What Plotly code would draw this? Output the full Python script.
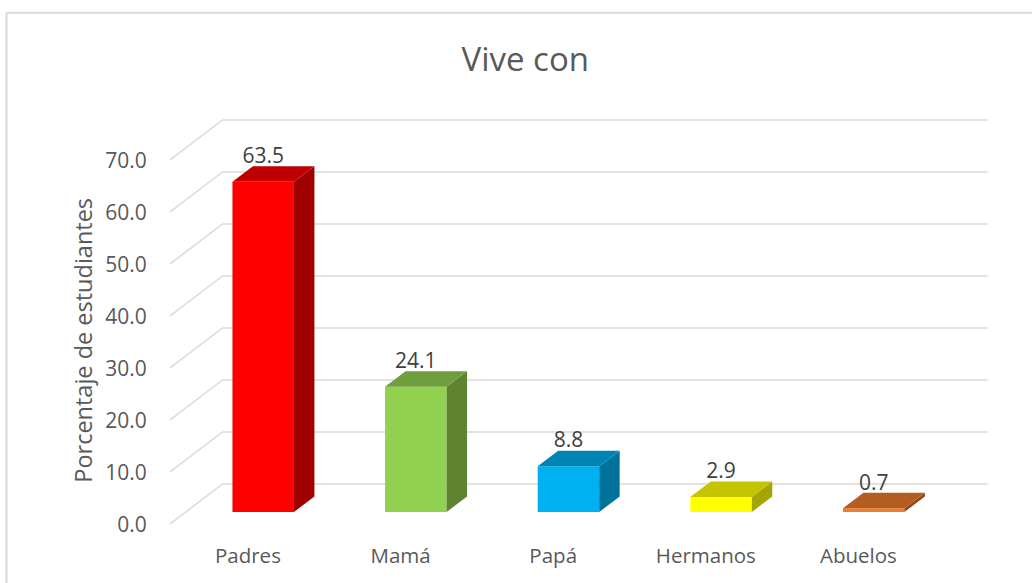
import plotly.graph_objects as go

categories = ['Padres', 'Mamá', 'Papá', 'Hermanos', 'Abuelos']
values = [63.5, 24.1, 8.8, 2.9, 0.7]
axis_ticks = [0, 10, 20, 30, 40, 50, 60, 70]

front_colors = ['#FF0000', '#92D050', '#00B0F0', '#FFFF00', '#ED7D31']
top_colors = ['#C00000', '#6F9F3D', '#0084B4', '#C4C400', '#B35D20']
side_colors = ['#A00000', '#5E8431', '#00739C', '#A5A500', '#8F4A1A']

GRID = '#D9D9D9'
FONT = 'Open Sans'

# fake 3D: offsets in axis units (x = category step, y = percent)
BAR_W = 0.403
DEPTH_X = 0.134
DEPTH_Y = 2.98
WALL_LEFT = -0.267
WALL_RIGHT = 4.746
WALL_Y = 5.385
FRONT_LEFT = -0.6107
FRONT_Y = -2.31
TICK_Y = -2.5
LABEL_SHIFT = 0.1
LABEL_Y = 2.6

xs = list(range(len(categories)))

fig = go.Figure()

fig.add_trace(go.Bar(
    x=xs,
    y=values,
    width=BAR_W,
    marker=dict(color=front_colors, line=dict(width=0)),
    hoverinfo='skip',
))

for x, v, top_c, side_c in zip(xs, values, top_colors, side_colors):
    left = x - BAR_W / 2
    right = x + BAR_W / 2
    fig.add_trace(go.Scatter(
        x=[right, right + DEPTH_X, right + DEPTH_X, right, right],
        y=[0, DEPTH_Y, v + DEPTH_Y, v, 0],
        mode='lines', fill='toself', fillcolor=side_c,
        line=dict(width=0), hoverinfo='skip',
    ))
    fig.add_trace(go.Scatter(
        x=[left, left + DEPTH_X, right + DEPTH_X, right, left],
        y=[v, v + DEPTH_Y, v + DEPTH_Y, v, v],
        mode='lines', fill='toself', fillcolor=top_c,
        line=dict(width=0), hoverinfo='skip',
    ))

fig.add_trace(go.Scatter(
    x=xs,
    y=[v + LABEL_Y for v in values],
    mode='text',
    text=[f'{v:.1f}' for v in values],
    textposition='top center',
    textfont=dict(family=FONT, size=21, color='#404040'),
    hoverinfo='skip',
))

# gridlines sit under the bars
for t in axis_ticks:
    fig.add_shape(type='line', layer='below', x0=WALL_LEFT, x1=WALL_RIGHT,
                  y0=t + WALL_Y, y1=t + WALL_Y, line=dict(color=GRID, width=1.5))
    fig.add_shape(type='line', layer='below', x0=FRONT_LEFT, x1=WALL_LEFT,
                  y0=t + FRONT_Y, y1=t + WALL_Y, line=dict(color=GRID, width=1.5))

# chart frame, runs off the page on the right and bottom
fig.add_shape(type='line', xref='paper', yref='paper', x0=-0.1994, x1=1.1,
              y0=1.2, y1=1.2, line=dict(color=GRID, width=2))
fig.add_shape(type='line', xref='paper', yref='paper', x0=-0.1994, x1=-0.1994,
              y0=-0.2, y1=1.2, line=dict(color=GRID, width=2))

# axis title is not centred on the plot area, so it goes in as an annotation
fig.add_annotation(
    text='Porcentaje de estudiantes', textangle=-90, showarrow=False,
    xref='paper', yref='paper', x=-0.106, y=0.448, xanchor='center', yanchor='middle',
    font=dict(family=FONT, size=23.5, color='#595959'),
)

fig.update_layout(
    width=1032,
    height=583,
    showlegend=False,
    paper_bgcolor='white',
    plot_bgcolor='white',
    margin=dict(t=100, b=47, l=170, r=42),
    title=dict(text='Vive con', x=0.509, xanchor='center', y=0.898, yanchor='middle',
               font=dict(family=FONT, size=33, color='#595959')),
    xaxis=dict(
        range=[-0.6107, 4.762],
        automargin=False,
        tickvals=[x - LABEL_SHIFT for x in xs],
        ticktext=categories,
        showgrid=False, zeroline=False, showline=False,
        ticks='outside', ticklen=1, tickcolor='rgba(0,0,0,0)',
        tickfont=dict(family=FONT, size=20.5, color='#595959'),
    ),
    yaxis=dict(
        range=[-4.615, 79.23],
        automargin=False,
        tickvals=[t + TICK_Y for t in axis_ticks],
        ticktext=[f'{t:.1f}' for t in axis_ticks],
        showgrid=False, zeroline=False, showline=False,
        ticks='outside', ticklen=18, tickcolor='rgba(0,0,0,0)',
        tickfont=dict(family=FONT, size=21, color='#595959'),
    ),
)

# the page has a default body margin that would push the chart 8px in
fig.write_html("out.html", config=dict(displayModeBar=False),
               post_script="document.body.style.margin='0';")
